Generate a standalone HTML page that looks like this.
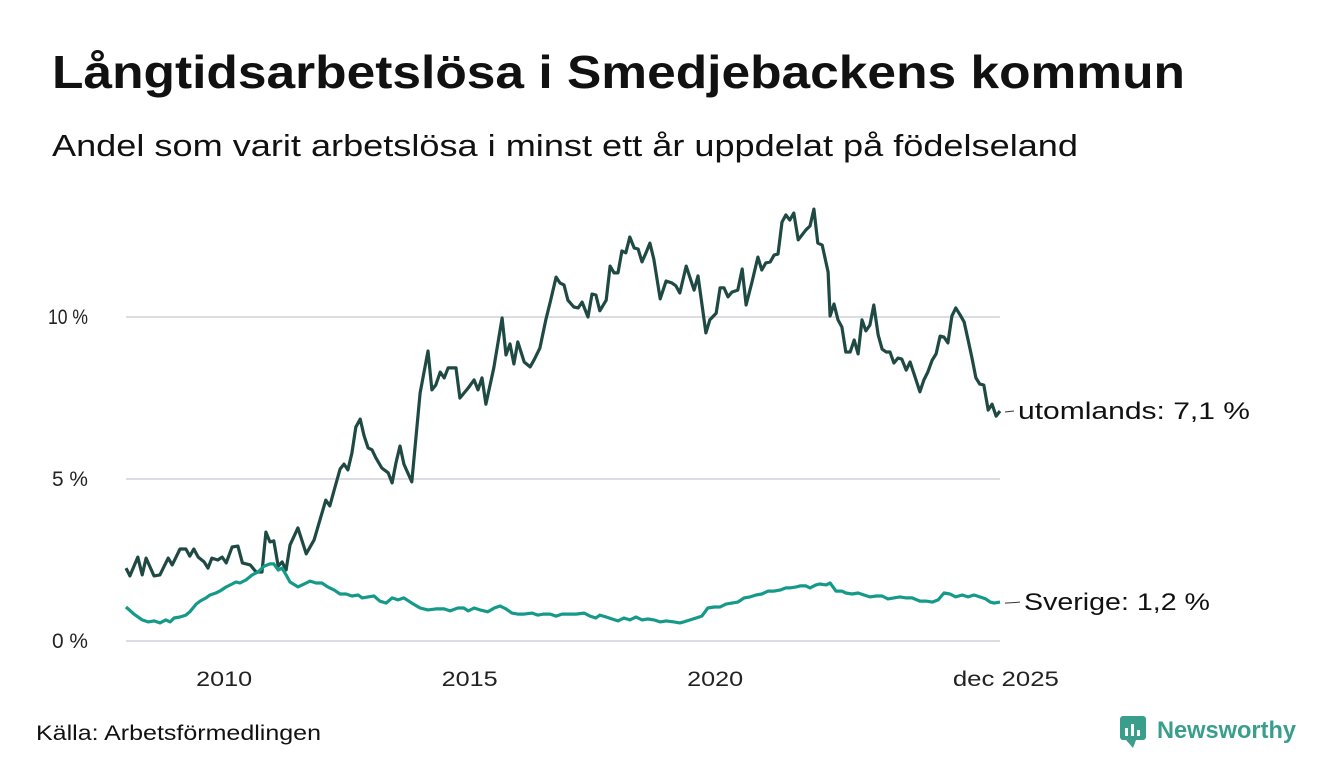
<!DOCTYPE html>
<html><head><meta charset="utf-8">
<style>
body{margin:0;background:#fff;font-family:"Liberation Sans","DejaVu Sans",sans-serif;}
#wrap{position:relative;width:1340px;height:780px;overflow:hidden;}
</style></head>
<body>
<div id="wrap">
<svg id="chart" width="1340" height="780">
<text x="52" y="88" font-size="46" font-weight="bold" fill="#111" textLength="1133" lengthAdjust="spacingAndGlyphs">Långtidsarbetslösa i Smedjebackens kommun</text>
<text x="52" y="156" font-size="31" fill="#111" textLength="1026" lengthAdjust="spacingAndGlyphs">Andel som varit arbetslösa i minst ett år uppdelat på födelseland</text>
<g id="grid"></g>
<g id="lines"></g>
<g id="labels"></g>
<text x="36" y="740" font-size="21" fill="#111" textLength="285" lengthAdjust="spacingAndGlyphs">Källa: Arbetsförmedlingen</text>
<g>
<rect x="1120" y="716" width="26" height="24" rx="3" fill="#3a9e8d"/>
<path d="M1126 740 L1133 748 L1136 740 Z" fill="#3a9e8d"/>
<rect x="1125" y="728" width="3" height="8" fill="#fff"/><rect x="1131" y="724" width="3" height="12" fill="#fff"/><rect x="1137" y="730" width="3" height="6" fill="#fff"/>
<text x="1157" y="738" font-size="24" font-weight="bold" fill="#3a9e8d" textLength="139" lengthAdjust="spacingAndGlyphs">Newsworthy</text>
</g>
</svg>
</div>
<script>
const yTicks=[0,5,10];
const yTickLabels=["0 %","5 %","10 %"];
const xTicks=[2010,2015,2020,2025.92];
const xTickLabels=["2010","2015","2020","dec 2025"];
const seriesNames=["utomlands","Sverige"];
const endLabels=["utomlands: 7,1 %","Sverige: 1,2 %"];
const utDates=[2008.00,2008.08,2008.24,2008.33,2008.41,2008.57,2008.69,2008.86,2008.94,2009.10,2009.22,2009.30,2009.38,2009.47,2009.59,2009.67,2009.75,2009.87,2009.96,2010.04,2010.16,2010.28,2010.37,2010.53,2010.65,2010.77,2010.85,2010.93,2011.01,2011.10,2011.18,2011.26,2011.34,2011.50,2011.67,2011.83,2011.95,2012.07,2012.15,2012.24,2012.36,2012.44,2012.52,2012.60,2012.68,2012.77,2012.85,2012.93,2013.01,2013.09,2013.21,2013.34,2013.42,2013.50,2013.58,2013.66,2013.82,2013.99,2014.15,2014.23,2014.31,2014.40,2014.48,2014.56,2014.72,2014.80,2014.97,2015.09,2015.17,2015.25,2015.33,2015.49,2015.66,2015.74,2015.82,2015.90,2015.98,2016.11,2016.23,2016.31,2016.43,2016.55,2016.64,2016.76,2016.84,2016.92,2017.00,2017.12,2017.21,2017.29,2017.41,2017.49,2017.57,2017.65,2017.78,2017.86,2017.94,2018.02,2018.10,2018.18,2018.26,2018.35,2018.43,2018.51,2018.59,2018.67,2018.75,2018.88,2019.00,2019.12,2019.20,2019.28,2019.41,2019.57,2019.65,2019.81,2019.89,2020.02,2020.10,2020.18,2020.26,2020.34,2020.46,2020.55,2020.63,2020.75,2020.87,2020.95,2021.03,2021.12,2021.20,2021.28,2021.36,2021.44,2021.52,2021.60,2021.69,2021.85,2021.93,2022.01,2022.09,2022.18,2022.30,2022.34,2022.42,2022.50,2022.58,2022.66,2022.75,2022.83,2022.91,2022.99,2023.07,2023.15,2023.23,2023.32,2023.40,2023.48,2023.56,2023.64,2023.72,2023.80,2023.89,2023.97,2024.09,2024.17,2024.25,2024.33,2024.42,2024.50,2024.58,2024.66,2024.74,2024.82,2024.90,2024.99,2025.07,2025.15,2025.23,2025.31,2025.39,2025.47,2025.56,2025.64,2025.72,2025.80];
const utValues=[2.25,2.01,2.59,2.04,2.56,2.01,2.04,2.56,2.35,2.84,2.84,2.62,2.84,2.59,2.44,2.25,2.56,2.50,2.59,2.41,2.90,2.93,2.41,2.35,2.13,2.13,3.36,3.06,3.09,2.31,2.44,2.19,2.96,3.49,2.69,3.12,3.73,4.35,4.17,4.66,5.31,5.46,5.28,5.80,6.60,6.85,6.33,5.96,5.90,5.65,5.34,5.19,4.88,5.52,6.02,5.46,4.91,7.65,8.95,7.75,7.90,8.30,8.12,8.43,8.43,7.50,7.81,8.06,7.75,8.12,7.31,8.43,9.97,8.83,9.17,8.55,9.23,8.61,8.46,8.67,9.04,9.91,10.46,11.23,11.05,10.99,10.52,10.31,10.28,10.46,10.00,10.71,10.68,10.19,10.52,11.57,11.36,11.36,12.04,11.98,12.47,12.13,12.10,11.70,11.98,12.28,11.79,10.56,11.11,11.05,10.96,10.74,11.57,10.83,11.27,9.51,9.91,10.12,10.90,10.90,10.62,10.77,10.83,11.48,10.37,11.08,11.85,11.45,11.67,11.70,11.91,11.94,12.93,13.15,12.99,13.21,12.38,12.69,12.81,13.33,12.28,12.22,11.39,10.03,10.40,9.91,9.69,8.92,8.92,9.29,8.86,9.91,9.57,9.75,10.37,9.44,9.01,8.92,8.92,8.58,8.73,8.70,8.36,8.61,8.06,7.69,8.06,8.30,8.67,8.86,9.41,9.38,9.20,10.03,10.28,10.06,9.85,9.29,8.73,8.12,7.93,7.90,7.13,7.31,6.94,7.10];
const seDates=[2008.00,2008.16,2008.33,2008.45,2008.57,2008.69,2008.81,2008.90,2008.98,2009.10,2009.22,2009.30,2009.43,2009.51,2009.63,2009.71,2009.83,2009.91,2010.04,2010.16,2010.24,2010.32,2010.44,2010.57,2010.69,2010.81,2010.93,2011.01,2011.10,2011.18,2011.26,2011.34,2011.50,2011.63,2011.75,2011.87,2011.99,2012.11,2012.24,2012.36,2012.48,2012.60,2012.73,2012.81,2012.93,2013.05,2013.17,2013.30,2013.42,2013.54,2013.66,2013.82,2013.99,2014.15,2014.31,2014.48,2014.60,2014.76,2014.88,2014.97,2015.09,2015.21,2015.37,2015.50,2015.62,2015.74,2015.86,2015.98,2016.11,2016.27,2016.39,2016.51,2016.64,2016.76,2016.88,2017.00,2017.16,2017.33,2017.45,2017.57,2017.65,2017.78,2017.90,2018.02,2018.14,2018.26,2018.39,2018.51,2018.63,2018.75,2018.88,2019.00,2019.16,2019.28,2019.36,2019.49,2019.61,2019.73,2019.85,2019.98,2020.10,2020.22,2020.34,2020.46,2020.59,2020.71,2020.83,2020.95,2021.08,2021.20,2021.32,2021.44,2021.52,2021.65,2021.73,2021.85,2021.93,2022.05,2022.13,2022.26,2022.34,2022.46,2022.58,2022.66,2022.79,2022.91,2023.03,2023.15,2023.28,2023.40,2023.52,2023.64,2023.76,2023.89,2024.01,2024.17,2024.29,2024.42,2024.54,2024.66,2024.78,2024.90,2025.03,2025.15,2025.27,2025.39,2025.51,2025.60,2025.68,2025.80];
const seValues=[1.05,0.83,0.65,0.59,0.62,0.56,0.65,0.59,0.71,0.74,0.80,0.90,1.14,1.23,1.33,1.42,1.48,1.54,1.67,1.76,1.82,1.79,1.88,2.04,2.13,2.31,2.38,2.38,2.19,2.25,2.04,1.82,1.67,1.76,1.85,1.79,1.79,1.67,1.57,1.45,1.45,1.39,1.42,1.33,1.36,1.39,1.23,1.17,1.33,1.27,1.33,1.17,1.02,0.96,0.99,0.99,0.93,1.02,1.02,0.93,1.02,0.96,0.90,1.02,1.08,0.99,0.86,0.83,0.83,0.86,0.80,0.83,0.83,0.77,0.83,0.83,0.83,0.86,0.77,0.71,0.80,0.74,0.68,0.62,0.71,0.65,0.74,0.65,0.68,0.65,0.59,0.62,0.59,0.56,0.59,0.65,0.71,0.77,1.02,1.05,1.05,1.14,1.17,1.20,1.33,1.36,1.42,1.45,1.54,1.54,1.57,1.64,1.64,1.67,1.70,1.70,1.64,1.73,1.76,1.73,1.79,1.54,1.54,1.48,1.45,1.48,1.42,1.36,1.39,1.39,1.30,1.33,1.36,1.33,1.33,1.23,1.23,1.20,1.27,1.48,1.45,1.36,1.42,1.36,1.42,1.36,1.30,1.20,1.17,1.20];

const NS="http://www.w3.org/2000/svg";
const X0=126,X1=1000,Y0=641,PXY=32.4,PXYR=49.1;
const yLabelW=[36,36,40];
const xLabelW=[56,56,56,106];
const endLabelW=[232,186];
function xs(t){return X0+(t-2008)*PXYR;}
function ys(v){return Y0-v*PXY;}
function mk(tag,attrs,parent){const e=document.createElementNS(NS,tag);for(const k in attrs)e.setAttribute(k,attrs[k]);parent.appendChild(e);return e;}
const grid=document.getElementById('grid');
yTicks.forEach((t,i)=>{
  const l=mk('line',{x1:X0,x2:X1,y1:ys(t),y2:ys(t),stroke:'#dcdce2','stroke-width':2},grid);
  
  
  const tx=mk('text',{x:88,y:ys(t)+7,'text-anchor':'end','font-size':21,fill:'#222',textLength:yLabelW[i],lengthAdjust:'spacingAndGlyphs'},grid);
  tx.textContent=yTickLabels[i];
  
  
});
xTicks.forEach((t,i)=>{
  const tx=mk('text',{x:xs(t),y:686,'text-anchor':'middle','font-size':21,fill:'#222',textLength:xLabelW[i],lengthAdjust:'spacingAndGlyphs'},grid);
  tx.textContent=xTickLabels[i];
  
  
});
const lines=document.getElementById('lines');
function draw(dates,vals,color,name){
  const n=Math.min(dates.length,vals.length);
  let d='';
  for(let i=0;i<n;i++)d+=(i?'L':'M')+xs(dates[i]).toFixed(1)+' '+ys(vals[i]).toFixed(1);
  const p=mk('path',{d:d,fill:'none',stroke:color,'stroke-width':3.2,'stroke-linejoin':'round'},lines);
  
  
  return ys(vals[n-1]);
}
const lab=document.getElementById('labels');
const yu=draw(utDates,utValues,'#1f4a44','line-utomlands');
const ysv=draw(seDates,seValues,'#159a8a','line-sverige');
[[yu,endLabels[0],1018],[ysv,endLabels[1],1024]].forEach(([yy,txt,lx],i)=>{
  const dl=mk('line',{x1:1005,x2:lx-4,y1:yy+1,y2:yy,stroke:'#333','stroke-width':1},lab);
  
  
  const t=mk('text',{x:lx,y:yy+8,'font-size':24,fill:'#111',textLength:endLabelW[i],lengthAdjust:'spacingAndGlyphs'},lab);
  t.textContent=txt;
  
  
});
</script>
</body></html>
